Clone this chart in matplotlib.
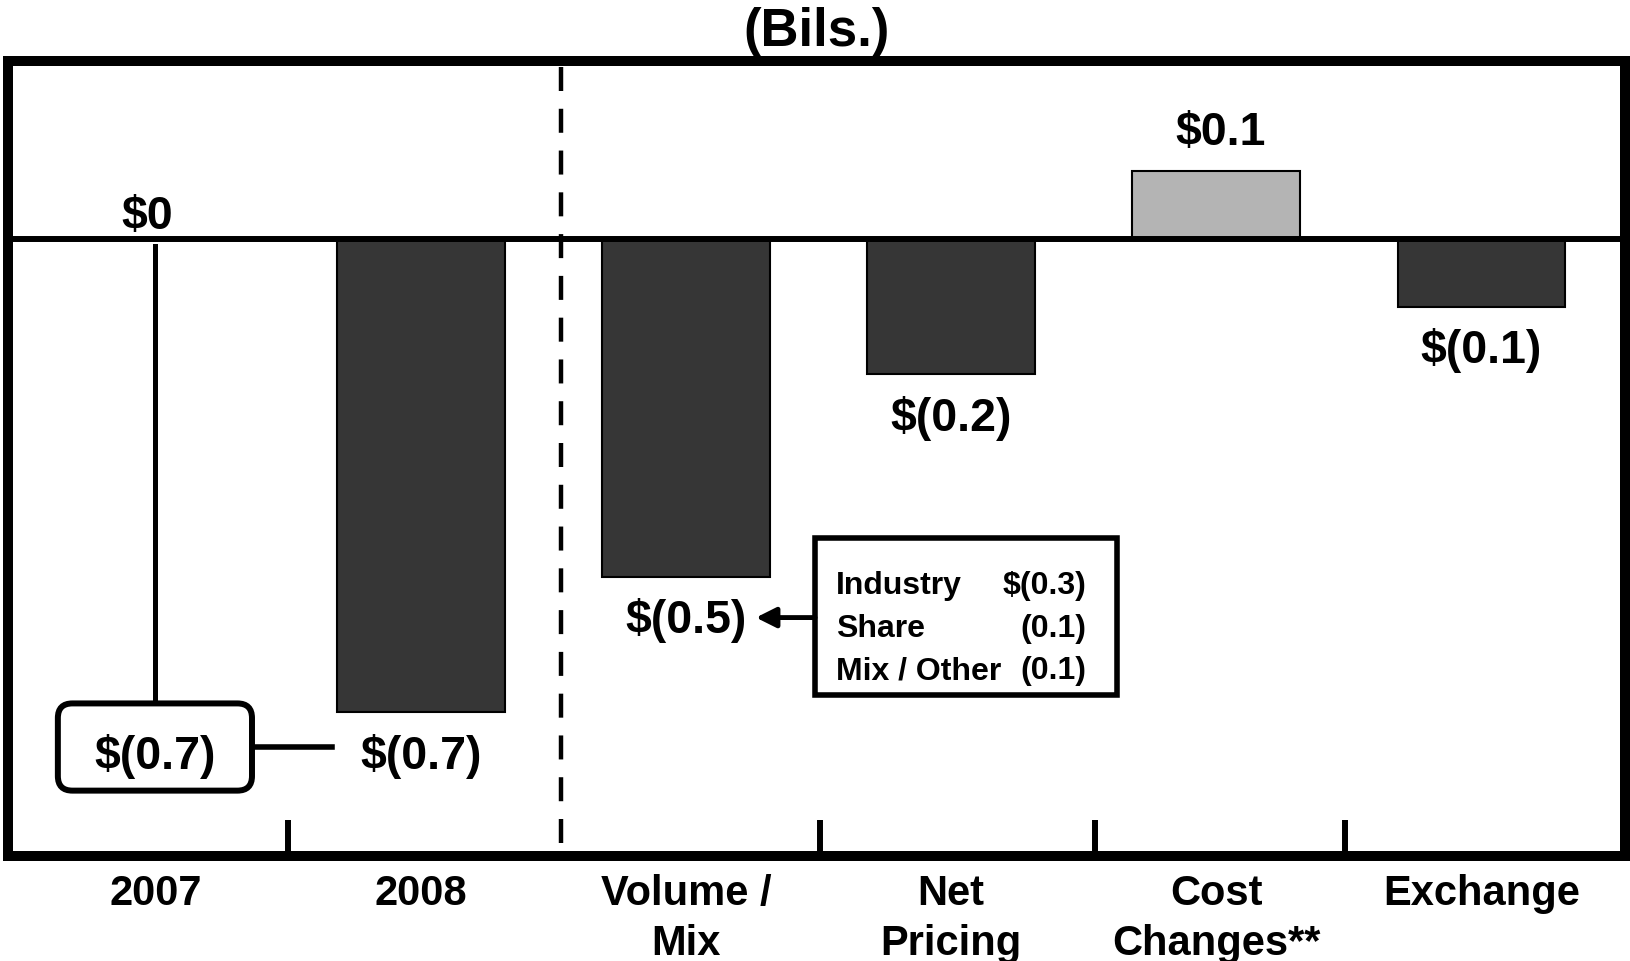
import matplotlib.pyplot as plt
from matplotlib.patches import FancyBboxPatch, Rectangle
from matplotlib.transforms import blended_transform_factory

plt.rcParams['font.family'] = ['Liberation Sans', 'DejaVu Sans']
plt.rcParams['font.weight'] = 'bold'

# Datos del gráfico
title = "(Bils.)"
categories = ["2007", "2008", "Volume /\nMix", "Net\nPricing", "Cost\nChanges**", "Exchange"]
values = [0.0, -0.7, -0.5, -0.2, 0.1, -0.1]

mix_items = ["Industry", "Share", "Mix / Other"]
mix_values = [-0.3, -0.1, -0.1]

DARK = '#363636'
LIGHT = '#b4b4b4'


def money(v, dollar=True):
    # Formato $(0.7) / $0.1 / $0
    if abs(v) < 0.05:
        return "$0"
    s = f"{abs(v):.1f}"
    if v < 0:
        s = f"({s})"
    return ("$" if dollar else "") + s


fig = plt.figure(figsize=(16.3, 9.62), dpi=100)
ax = fig.add_axes([8 / 1630, 1 - 857 / 962, 1617 / 1630, 795 / 962])
ax.set_xlim(-0.556, 5.541)
ax.set_ylim(-0.9127, 0.2633)
for s in ax.spines.values():
    s.set_visible(False)

x = list(range(len(categories)))

# Barras (2007 es la base en cero)
colors = [LIGHT if v > 0 else DARK for v in values[1:]]
ax.bar(x[1:], values[1:], width=0.633, color=colors, edgecolor='black',
       linewidth=1.5, zorder=2)
ax.axhline(0, color='black', lw=4.3, zorder=3)

# Etiquetas de valores
for xi, v in zip(x, values):
    if xi == 0:
        ax.text(xi - 0.03, 0.017, money(v), ha='center', va='baseline', fontsize=33.5)
    elif v > 0:
        ax.text(xi + 0.015, v + 0.041, money(v), ha='center', va='baseline', fontsize=33.5)
    else:
        ax.text(xi, v - 0.082, money(v), ha='center', va='baseline', fontsize=33.5)

# Cambio 2007 -> 2008 en caja redondeada
change = values[1] - values[0]
box_y = change - 0.0515
ax.plot([0, 0], [-0.011, box_y + 0.0645], color='black', lw=3.6, zorder=2)
aspect = (1 / 676) / (1 / 265.2)
box = FancyBboxPatch((-0.368, box_y - 0.0645), 0.732, 0.129,
                     boxstyle="round,pad=0,rounding_size=0.055",
                     mutation_aspect=aspect, fc='white', ec='black', lw=4.3, zorder=4)
ax.add_patch(box)
ax.text(0, change - 0.082, money(change), ha='center', va='baseline', fontsize=33.5, zorder=5)
ax.plot([0.364, 0.666], [box_y, box_y], color='black', lw=4, zorder=2)

# Línea divisoria discontinua
div_line, = ax.plot([1.53, 1.53], [-0.893, 0.2633], color='black', lw=3.2, zorder=1)
div_line.set_dashes((5.4, 4.0))

# Caja de desglose Volume / Mix
bx0, bx1, by0, by1 = 2.487, 3.626, -0.675, -0.443
ax.add_patch(Rectangle((bx0, by0), bx1 - bx0, by1 - by0, fc='white', ec='black',
                       lw=4, joinstyle='miter', zorder=4))
for i, (name, v) in enumerate(zip(mix_items, mix_values)):
    yb = -0.524 - i * 0.063
    ax.text(2.566, yb, name, ha='left', va='baseline', fontsize=23, zorder=5)
    ax.text(3.510, yb, money(v, dollar=(i == 0)), ha='right', va='baseline',
            fontsize=23, zorder=5)
ax.annotate('', xy=(2.264, -0.560), xytext=(bx0, -0.560),
            arrowprops=dict(arrowstyle='-|>', lw=3.5, color='black', mutation_scale=30,
                            shrinkA=0, shrinkB=0), zorder=5)

# Marcas del eje inferior
ax.set_xticks([0.5, 2.507, 3.541, 4.486])
ax.set_xticklabels([])
ax.set_yticks([])
ax.tick_params(axis='x', direction='in', length=26, width=4.3, color='black')

# Etiquetas de categorías (una línea a la vez)
trans = blended_transform_factory(ax.transData, fig.transFigure)
for xi, lab in zip(x, categories):
    for j, line in enumerate(lab.split('\n')):
        ax.text(xi, 1 - (905 + 50 * j) / 962, line, transform=trans, ha='center',
                va='baseline', fontsize=30, clip_on=False)

# Marco exterior
ax.add_patch(Rectangle((0, 0), 1, 1, transform=ax.transAxes, fill=False, ec='black',
                       lw=7.2, joinstyle='miter', clip_on=False, zorder=6))

fig.text(0.501, 1 - 46 / 962, title, ha='center', va='baseline', fontsize=38)

fig.savefig('out.png', dpi=100)
